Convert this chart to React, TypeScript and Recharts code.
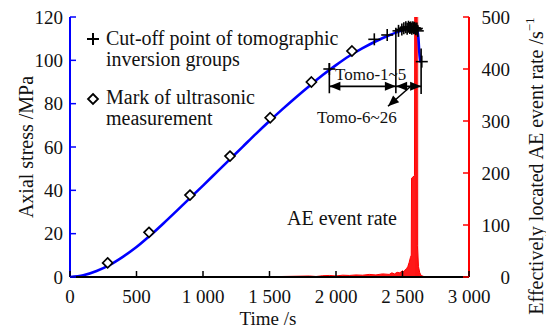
import React from 'react';
import {
  ComposedChart,
  Line,
  Area,
  Scatter,
  XAxis,
  YAxis,
  ReferenceLine,
  ReferenceDot,
  ReferenceArea,
} from 'recharts';

// ---------- data ----------
const timeTicks = [0, 500, 1000, 1500, 2000, 2500, 3000];
const stressTicks = [0, 20, 40, 60, 80, 100, 120];
const aeTicks = [0, 100, 200, 300, 400, 500];

const stressTime = [0, 100, 200, 300, 400, 500, 600, 700, 800, 900, 1000, 1100, 1200, 1300, 1400, 1500, 1600, 1700, 1800, 1900, 2000, 2100, 2200, 2300, 2400, 2450, 2500, 2550, 2580, 2600, 2612, 2620, 2626, 2632, 2637];
const stressValue = [0, 0.8, 2.8, 5.6, 9.4, 13.8, 19, 24.6, 30.4, 36.3, 42.2, 48.2, 54.2, 60.2, 66.2, 72, 77.6, 83, 88.2, 93.2, 97.8, 102, 105.6, 108.8, 111.6, 112.8, 113.9, 114.6, 114.8, 114.5, 113.5, 110, 104, 100.5, 99];

const ultrasonicTime = [283, 594, 902, 1203, 1505, 1815, 2120];
const ultrasonicStress = [6.5, 20.6, 37.8, 55.8, 73.5, 90, 104.3];

const cutoffTime = [1950, 2288, 2385, 2470, 2495, 2510, 2525, 2535, 2545, 2555, 2562, 2570, 2578, 2585, 2592, 2600, 2608, 2615, 2645];
const cutoffStress = [96, 109.7, 111.7, 113.6, 114.2, 114.8, 115.3, 114.6, 115.5, 114.9, 115.2, 114.6, 115.3, 114.8, 115, 114.4, 114.7, 113.6, 99.4];

const aeTime = [0, 1000, 1050, 1200, 1400, 1500, 1600, 1700, 1800, 1850, 1900, 1950, 2000, 2050, 2100, 2150, 2200, 2250, 2300, 2350, 2400, 2420, 2440, 2460, 2480, 2500, 2510, 2520, 2530, 2540, 2550, 2560, 2566, 2568, 2590, 2592, 2610, 2612, 2620, 2630, 2640, 2660, 2700, 2750, 3000];
const aeRate = [0, 0, 0.5, 0.3, 0.8, 0.5, 1, 1.5, 2, 1, 2.5, 3, 2, 3.5, 3, 4, 3.5, 5, 4, 6, 5, 8, 6, 9, 8, 12, 10, 14, 16, 20, 28, 38, 42, 190, 195, 500, 500, 60, 20, 8, 3, 1, 0.5, 0, 0];

const stressData = stressTime.map((t, i) => ({ t, y: stressValue[i] }));
const ultrasonicData = ultrasonicTime.map((t, i) => ({ t, y: ultrasonicStress[i] }));
const cutoffData = cutoffTime.map((t, i) => ({ t, y: cutoffStress[i] }));
const aeData = aeTime.map((t, i) => ({ t, v: aeRate[i] }));

// ---------- styles ----------
const FONT = '"Liberation Serif", "Times New Roman", serif';
const BLUE = '#0000ff';
const RED = '#ff0000';

const fmtTime = (n: number) =>
  n >= 1000 ? `${Math.floor(n / 1000)} ${String(n % 1000).padStart(3, '0')}` : String(n);

const XTick = (props: any) => {
  const { x, y, payload } = props;
  return (
    <g>
      <line x1={x} x2={x} y1={y} y2={y - 6} stroke="#000" strokeWidth={1.5} />
      <text x={x} y={y + 26} textAnchor="middle" fontFamily={FONT} fontSize={19} fill="#111">
        {fmtTime(payload.value)}
      </text>
    </g>
  );
};

const LeftTick = (props: any) => {
  const { x, y, payload } = props;
  return (
    <g>
      <line x1={x} x2={x + 6} y1={y} y2={y} stroke={BLUE} strokeWidth={1.5} />
      <text x={x - 7} y={y} dy="0.35em" textAnchor="end" fontFamily={FONT} fontSize={19} fill="#111">
        {payload.value}
      </text>
    </g>
  );
};

const RightTick = (props: any) => {
  const { x, y, payload } = props;
  return (
    <g>
      <line x1={x} x2={x - 6} y1={y} y2={y} stroke={RED} strokeWidth={1.5} />
      <text x={x + 41} y={y} dy="0.35em" textAnchor="end" fontFamily={FONT} fontSize={19} fill="#111">
        {payload.value}
      </text>
    </g>
  );
};

const CrossShape = (props: any) => {
  const { cx, cy } = props;
  return (
    <g>
      <line x1={cx - 6} x2={cx + 6} y1={cy} y2={cy} stroke="#000" strokeWidth={1.6} />
      <line x1={cx} x2={cx} y1={cy - 6} y2={cy + 6} stroke="#000" strokeWidth={1.6} />
    </g>
  );
};

const DiamondShape = (props: any) => {
  const { cx, cy } = props;
  return (
    <path
      d={`M${cx},${cy - 5} L${cx + 5},${cy} L${cx},${cy + 5} L${cx - 5},${cy} Z`}
      fill="#fff"
      stroke="#000"
      strokeWidth={1.7}
    />
  );
};

const arrowHead = (angle: number) => (props: any) => {
  const { cx, cy } = props;
  return (
    <polygon
      points="0,0 -11,-4.5 -11,4.5"
      transform={`translate(${cx},${cy}) rotate(${angle})`}
      fill="#000"
    />
  );
};

const ARROW_Y = 88;

export default function App() {
  return (
    <div style={{ position: 'relative', width: 546, height: 329 }}>
      <style>{'body{margin:0}'}</style>
      <ComposedChart width={546} height={329} margin={{ top: 17, right: 0, bottom: 0, left: 0 }}>
        <XAxis
          dataKey="t"
          type="number"
          domain={[0, 3000]}
          ticks={timeTicks}
          interval={0}
          allowDataOverflow
          height={52}
          axisLine={{ stroke: '#000', strokeWidth: 2 }}
          tickLine={false}
          tickSize={0}
          tickMargin={0}
          tick={<XTick />}
        />
        <YAxis
          yAxisId="left"
          dataKey="y"
          orientation="left"
          type="number"
          domain={[0, 120]}
          ticks={stressTicks}
          interval={0}
          allowDataOverflow
          width={70}
          axisLine={{ stroke: BLUE, strokeWidth: 2 }}
          tickLine={false}
          tickSize={0}
          tickMargin={0}
          tick={<LeftTick />}
        />
        <YAxis
          yAxisId="right"
          dataKey="v"
          orientation="right"
          type="number"
          domain={[0, 500]}
          ticks={aeTicks}
          interval={0}
          allowDataOverflow
          width={77}
          axisLine={{ stroke: RED, strokeWidth: 2 }}
          tickLine={false}
          tickSize={0}
          tickMargin={0}
          tick={<RightTick />}
        />

        <ReferenceArea
          yAxisId="right"
          x1={2593}
          x2={2625}
          y1={0}
          y2={500}
          fill="#e89a9a"
          fillOpacity={0.45}
          stroke="none"
        />
        <Area
          yAxisId="right"
          data={aeData}
          dataKey="v"
          type="linear"
          stroke={RED}
          strokeWidth={1}
          fill={RED}
          fillOpacity={0.9}
          isAnimationActive={false}
          dot={false}
          activeDot={false}
        />
        <Line
          yAxisId="left"
          data={stressData}
          dataKey="y"
          type="monotone"
          stroke={BLUE}
          strokeWidth={2.6}
          dot={false}
          activeDot={false}
          isAnimationActive={false}
        />
        <Scatter
          yAxisId="left"
          data={ultrasonicData}
          dataKey="y"
          shape={DiamondShape}
          isAnimationActive={false}
        />
        <Scatter
          yAxisId="left"
          data={cutoffData}
          dataKey="y"
          shape={CrossShape}
          isAnimationActive={false}
        />

        {/* annotation lines */}
        <ReferenceLine yAxisId="left" segment={[{ x: 1950, y: 98.7 }, { x: 1950, y: 84.8 }]} stroke="#000" strokeWidth={1.6} />
        <ReferenceLine yAxisId="left" segment={[{ x: 2450, y: 115 }, { x: 2450, y: 84.8 }]} stroke="#000" strokeWidth={1.6} />
        <ReferenceLine yAxisId="left" segment={[{ x: 2640, y: 105.5 }, { x: 2640, y: 84.5 }]} stroke="#000" strokeWidth={1.6} />
        <ReferenceLine yAxisId="left" segment={[{ x: 1950, y: ARROW_Y }, { x: 2640, y: ARROW_Y }]} stroke="#000" strokeWidth={1.6} />
        <ReferenceLine yAxisId="left" segment={[{ x: 2556, y: 87.7 }, { x: 2391, y: 78.8 }]} stroke="#000" strokeWidth={1.6} />

        <ReferenceDot yAxisId="left" x={1950} y={ARROW_Y} shape={arrowHead(180)} />
        <ReferenceDot yAxisId="left" x={2450} y={ARROW_Y} shape={arrowHead(0)} />
        <ReferenceDot yAxisId="left" x={2452} y={ARROW_Y} shape={arrowHead(180)} />
        <ReferenceDot yAxisId="left" x={2640} y={ARROW_Y} shape={arrowHead(0)} />
        <ReferenceDot yAxisId="left" x={2391} y={78.8} shape={arrowHead(137.7)} />
      </ComposedChart>

      <svg
        width={546}
        height={329}
        style={{ position: 'absolute', left: 0, top: 0, pointerEvents: 'none' }}
        fontFamily={FONT}
      >
        {/* legend */}
        <line x1={87} x2={99} y1={39} y2={39} stroke="#000" strokeWidth={2} />
        <line x1={93} x2={93} y1={33} y2={45} stroke="#000" strokeWidth={2} />
        <text x={106} y={45} fontSize={20} fill="#111">Cut-off point of tomographic</text>
        <text x={106} y={66} fontSize={20} fill="#111">inversion groups</text>
        <path d="M93,94 L98,99 L93,104 L88,99 Z" fill="#fff" stroke="#000" strokeWidth={1.8} />
        <text x={106} y={104} fontSize={20} fill="#111">Mark of ultrasonic</text>
        <text x={106} y={125} fontSize={20} fill="#111">measurement</text>

        {/* annotations */}
        <text x={335} y={80} fontSize={17} fill="#111">Tomo-1~5</text>
        <text x={317} y={123} fontSize={17} fill="#111">Tomo-6~26</text>
        <text x={287} y={225} fontSize={20} fill="#111">AE event rate</text>

        {/* axis titles */}
        <text x={268} y={325} fontSize={19} textAnchor="middle" fill="#111">Time /s</text>
        <text
          x={26}
          y={147}
          fontSize={20}
          textAnchor="middle"
          dominantBaseline="central"
          transform="rotate(-90 26 147)"
          fill="#111"
        >
          Axial stress /MPa
        </text>
        <text
          x={536}
          y={166}
          fontSize={20}
          textAnchor="middle"
          dominantBaseline="central"
          transform="rotate(-90 536 166)"
          fill="#111"
        >
          Effectively located AE event rate /s
          <tspan dy={-7} fontSize={13}>−1</tspan>
        </text>
      </svg>
    </div>
  );
}
